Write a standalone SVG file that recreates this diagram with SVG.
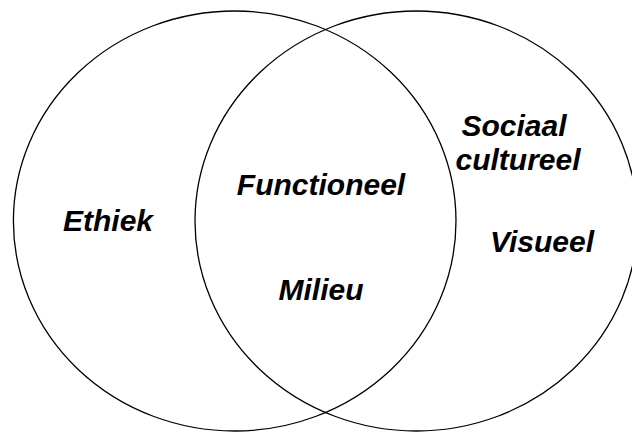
<svg xmlns="http://www.w3.org/2000/svg" width="632" height="432" viewBox="0 0 632 432">
<style>
.c{fill:none;stroke:#000;stroke-width:1.3}
.t{font-family:"Liberation Sans",Arial,sans-serif;font-weight:bold;font-style:italic;font-size:30px;fill:#000;text-anchor:middle}
</style>
<rect width="632" height="432" fill="#fff"/>
<g id="left-circle"><ellipse class="c" cx="234.7" cy="221" rx="221.3" ry="210"/></g>
<g id="right-circle"><ellipse class="c" cx="416.3" cy="221" rx="221.3" ry="210"/></g>
<g id="connectors"></g>
<g id="labels">
<text class="t" x="108" y="231">Ethiek</text>
<text class="t" x="321" y="195">Functioneel</text>
<text class="t" x="321" y="300">Milieu</text>
<text class="t" x="514" y="136">Sociaal</text>
<text class="t" x="518" y="170">cultureel</text>
<text class="t" x="542" y="252">Visueel</text>
</g>
</svg>
